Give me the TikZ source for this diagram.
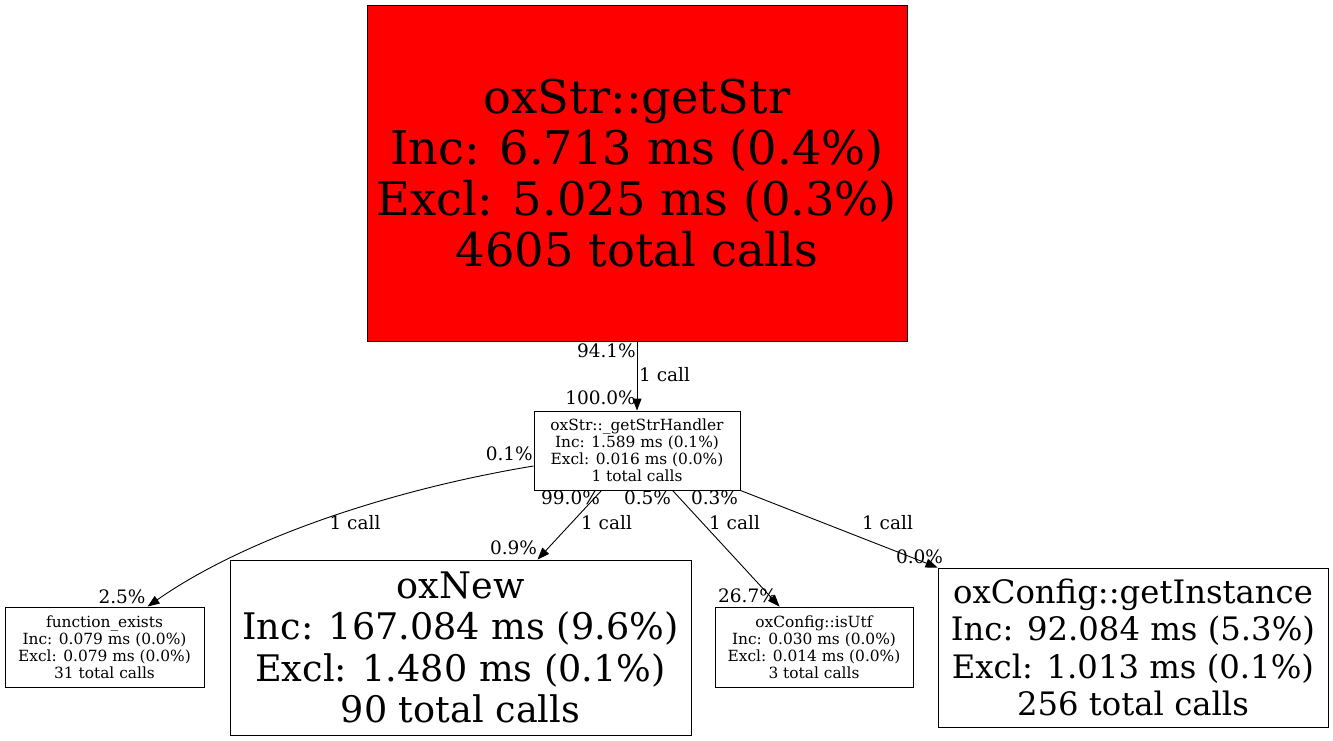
\documentclass[tikz,border=0pt]{standalone}
\usepackage{fontspec}
\setmainfont{DejaVu Serif}
\usetikzlibrary{arrows.meta,calc}
\begin{document}
\begin{tikzpicture}[x=1pt,y=-1pt,
  fn/.style={draw=black, line width=0.9pt, inner sep=0pt, align=center},
  edge/.style={draw=black, line width=0.9pt, -{Triangle[length=12pt,width=9pt]}},
  lbl/.style={inner sep=0pt, font=\fontsize{18.5}{20}\selectfont},
  small/.style={font=\fontsize{15.4}{17}\selectfont},
]
\useasboundingbox (0,0) rectangle (1333,741);
\node[fn, fill=red, minimum width=540pt, minimum height=336pt, font=\fontsize{46.4}{51}\selectfont] (top) at (637,173) {\raisebox{3pt}{\parbox{530pt}{\centering oxStr::getStr\\Inc: 6.713 ms (0.4\%)\\Excl: 5.025 ms (0.3\%)\\4605 total calls}}};
\node[fn, small, minimum width=206pt, minimum height=79pt] (mid) at (637,450.5) {oxStr::\_getStrHandler\\Inc: 1.589 ms (0.1\%)\\Excl: 0.016 ms (0.0\%)\\1 total calls};
\node[fn, small, minimum width=199pt, minimum height=80pt] (func) at (104.5,647) {function\_exists\\Inc: 0.079 ms (0.0\%)\\Excl: 0.079 ms (0.0\%)\\31 total calls};
\node[fn, font=\fontsize{36.6}{41.5}\selectfont, minimum width=461pt, minimum height=175pt] (oxnew) at (460.5,647.5) {oxNew\\Inc: 167.084 ms (9.6\%)\\Excl: 1.480 ms (0.1\%)\\90 total calls};
\node[fn, small, minimum width=198pt, minimum height=80pt] (isutf) at (814,647) {oxConfig::isUtf\\Inc: 0.030 ms (0.0\%)\\Excl: 0.014 ms (0.0\%)\\3 total calls};
\node[fn, font=\fontsize{32.3}{37.5}\selectfont, minimum width=390pt, minimum height=159pt] (gi) at (1133,647.5) {oxConfig::getInstance\\Inc: 92.084 ms (5.3\%)\\Excl: 1.013 ms (0.1\%)\\256 total calls};

\draw[edge] (top) -- (mid);
\draw[edge] ($(mid.west)+(0,15.5)$) .. controls (400,488) and (250,535) .. ($(func.north west)+(143,0)$);
\draw[edge] ($(mid.south west)+(68,0)$) -- ($(oxnew.north west)+(308,0)$);
\draw[edge] ($(mid.south west)+(139,0)$) -- ($(isutf.north west)+(65,0)$);
\draw[edge] (mid.south east) -- (gi.north west);

\node[lbl, anchor=east] (l1) at (636,351) {94.1\%};
\node[lbl, anchor=west] (l2) at (639,375) {1 call};
\node[lbl, anchor=east] (l3) at (636,398) {100.0\%};
\node[lbl, anchor=east] (l4) at (533,454) {0.1\%};
\node[lbl] (l5) at (355,523) {1 call};
\node[lbl] (l6) at (122,597) {2.5\%};
\node[lbl] (l7) at (570.5,498) {99.0\%};
\node[lbl] (l8) at (606.5,523) {1 call};
\node[lbl] (l9) at (513.5,548) {0.9\%};
\node[lbl] (l10) at (647.5,498) {0.5\%};
\node[lbl] (l11) at (734.5,523) {1 call};
\node[lbl] (l12) at (747.5,596) {26.7\%};
\node[lbl] (l13) at (714.5,498) {0.3\%};
\node[lbl] (l14) at (887.5,523) {1 call};
\node[lbl] (l15) at (919.5,557) {0.0\%};
\end{tikzpicture}
\end{document}
